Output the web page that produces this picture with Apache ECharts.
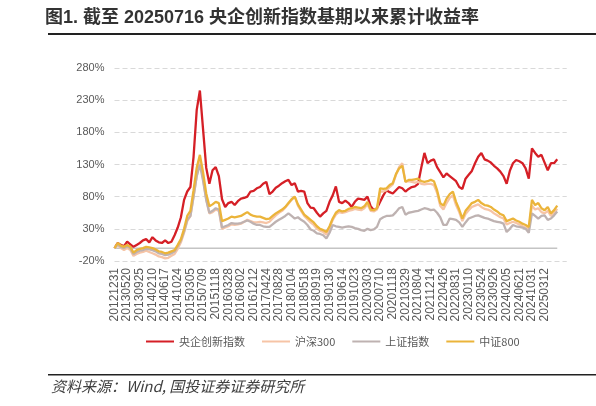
<!DOCTYPE html>
<html>
<head>
<meta charset="utf-8">
<script src="https://cdn.jsdelivr.net/npm/echarts@6/dist/echarts.min.js"></script>
<style>
html,body{margin:0;padding:0;background:#fff;}
#c{width:596px;height:406px;}
</style>
</head>
<body>
<div id="c"></div>
<script>
// Tick labels (every 4th data point)
const tickLabels = ['20121231','20130520','20130925','20140210','20140617','20141024','20150305','20150709','20151118','20160328','20160802','20161212','20170424','20170828','20180104','20180518','20180919','20190130','20190614','20191023','20200303','20200710','20201118','20210329','20210804','20211214','20220426','20220831','20230110','20230524','20230926','20240205','20240621','20241031','20250312'];

const seriesNames = ['央企创新指数','沪深300','上证指数','中证800'];

// Cumulative return (%)
const yangqi = [0,8,5,3,10,6,2,5,8,12,14,9,17,12,9,8,12,8,10,20,32,48,75,88,95,142,215,245,185,125,100,121,126,112,76,64,70,72,67,73,77,78,80,88,89,93,95,100,103,84,88,94,97,101,104,106,98,101,88,89,88,70,63,62,55,49,54,58,72,82,96,72,70,74,70,64,72,77,76,75,80,65,59,62,72,82,90,87,85,90,95,93,88,92,95,96,100,125,148,132,136,138,126,118,110,116,112,108,104,95,92,108,114,120,132,142,148,138,136,133,128,124,119,112,100,120,132,137,135,132,124,108,155,148,142,145,133,121,132,132,138];

const hs300 = [0,5,0,-3,0,-3,-12,-9,-7,-6,-4,-6,-8,-10,-13,-14,-16,-15,-12,-9,-1,9,24,42,50,80,112,135,108,76,54,56,60,58,30,32,34,37,36,37,38,41,44,42,40,40,41,40,39,41,46,51,55,58,63,69,75,80,66,58,50,45,40,36,30,27,25,21,31,44,52,56,55,56,58,59,61,60,59,62,68,58,57,60,88,88,90,95,99,114,126,132,103,104,103,102,103,100,99,100,100,98,86,66,60,70,78,82,67,56,42,53,59,64,66,68,64,61,60,58,54,51,48,46,37,39,41,39,37,34,32,29,66,60,62,56,54,58,50,55,61];

const shangzheng = [0,6,2,0,3,0,-9,-6,-4,-3,-1,-2,-3,-5,-8,-9,-11,-10,-8,-5,3,12,26,44,50,80,112,130,105,75,55,58,62,60,32,34,36,39,38,38,39,41,43,41,38,36,36,34,33,33,37,41,44,47,50,54,50,46,48,44,41,36,29,27,23,22,20,15,24,36,34,33,32,33,34,33,31,30,28,27,30,28,29,33,45,48,50,50,51,56,62,64,52,55,56,57,58,60,62,61,59,60,55,48,36,36,46,45,44,40,33,40,46,48,50,51,49,47,46,44,42,41,40,38,25,30,36,34,33,32,30,24,54,50,46,50,51,44,46,51,57];

const zz800 = [0,8,4,2,5,2,-7,-3,-1,0,2,1,0,-2,-5,-6,-8,-7,-5,-3,5,14,30,50,58,90,125,145,118,85,65,68,72,70,42,44,46,49,48,49,50,53,56,52,50,49,49,47,45,46,50,54,57,60,64,70,76,80,68,60,52,48,44,40,34,30,28,25,34,46,55,59,57,58,61,62,64,63,62,65,72,60,59,62,93,92,93,98,101,115,124,128,103,106,106,107,108,104,103,104,106,104,90,70,66,77,84,88,72,60,46,58,64,70,72,75,70,67,66,64,60,57,53,51,42,44,46,43,41,38,36,33,75,67,70,62,59,64,54,59,66];

const colors = ['#D51F26','#F6C4A6','#BEB2B1','#EBB43A'];

const OFFSET = 20; // axis runs from -20%; shift so ticks are multiples of 50
const N = yangqi.length + 3;
const xCats = Array.from({length: N}, (_, i) => (i % 4 === 0 && tickLabels[i / 4]) ? tickLabels[i / 4] : '·' + i);
const shift = arr => arr.map(v => v + OFFSET);
const allData = [yangqi, hs300, shangzheng, zz800];

const chart = echarts.init(document.getElementById('c'), null, {renderer: 'canvas'});
const lineSeries = seriesNames.map((name, k) => ({
  name: name,
  type: 'line',
  data: shift(allData[k]),
  symbol: 'none',
  showSymbol: false,
  lineStyle: {width: 2.3, color: colors[k]},
  itemStyle: {color: colors[k]},
  z: 3 + k
}));

const baseGraphic = [
  {type: 'text', left: 45, top: 9, style: {text: '图1. 截至 20250716 央企创新指数基期以来累计收益率', fill: '#333', font: 'bold 18px "Liberation Sans", "Noto Sans CJK SC", sans-serif'}},
  {type: 'rect', shape: {x: 48, y: 33, width: 548, height: 2}, style: {fill: '#222'}},
  {type: 'rect', shape: {x: 48, y: 374, width: 548, height: 1.5}, style: {fill: '#222'}},
  {type: 'text', left: 51, top: 379, style: {text: '资料来源：Wind, 国投证券证券研究所', fill: '#404040', font: 'italic 15px "Noto Sans CJK SC", sans-serif'}}
];

chart.setOption({
  animation: false,
  backgroundColor: '#fff',
  grid: {left: 114.5, right: 596 - 114.5 - (N - 1) * 3.1625, top: 68, bottom: 145},
  legend: {
    data: seriesNames,
    left: 141,
    top: 331,
    icon: 'rect',
    itemWidth: 28,
    itemHeight: 2,
    itemGap: 17,
    textStyle: {color: '#595959', fontSize: 11, fontFamily: 'Noto Sans CJK SC, sans-serif'}
  },
  xAxis: {
    type: 'category',
    data: xCats,
    boundaryGap: false,
    axisLine: {show: false},
    axisTick: {show: false},
    splitLine: {show: false},
    axisLabel: {
      interval: 3,
      showMinLabel: true,
      hideOverlap: false,
      rotate: 90,
      margin: 7,
      color: '#595959',
      fontSize: 12,
      lineHeight: 10,
      fontFamily: 'Liberation Sans, Arial, sans-serif',
      formatter: v => (v.charAt(0) === '·' ? '' : v)
    }
  },
  yAxis: {
    type: 'value',
    min: 0,
    max: 300,
    interval: 50,
    axisLine: {show: false},
    axisTick: {show: false},
    splitLine: {lineStyle: {color: '#D9D9D9', type: [5, 3], width: 1}},
    axisLabel: {
      color: '#595959',
      fontSize: 11,
      margin: 10,
      fontFamily: 'Liberation Sans, Arial, sans-serif',
      formatter: v => (v - OFFSET) + '%'
    }
  },
  graphic: baseGraphic,
  series: lineSeries
});

// zero reference line positioned through the chart's own scales
const p0 = chart.convertToPixel({gridIndex: 0}, [0, OFFSET]);
const p1 = chart.convertToPixel({gridIndex: 0}, [yangqi.length - 1, OFFSET]);
chart.setOption({
  graphic: baseGraphic.concat([{
    type: 'line', z: 1, silent: true,
    shape: {x1: p0[0], y1: p0[1], x2: p1[0], y2: p1[1]},
    style: {stroke: '#C4C4C4', lineWidth: 1.5}
  }])
});
</script>
</body>
</html>
